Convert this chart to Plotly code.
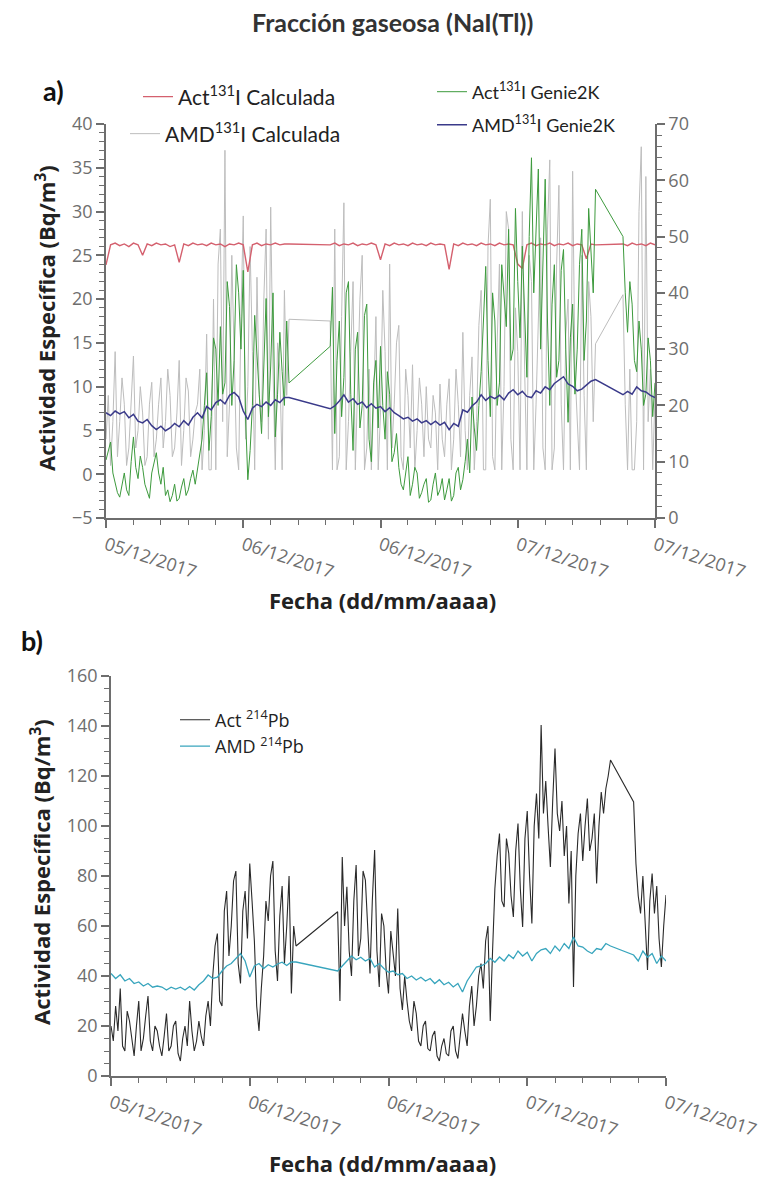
import plotly.graph_objects as go

# ---------------- time grids: hours after 05/12/2017 12:00 ----------------
def seg(start, n, step):
    return [round(start + step * i, 2) for i in range(n)]

top_hours = seg(0.0, 41, 0.4) + seg(19.6, 59, 0.4) + seg(45.2, 8, 0.4)      # smooth series
top_hours_d = seg(0.0, 81, 0.2) + seg(19.6, 117, 0.2) + seg(45.2, 15, 0.2)  # noisy series
bot_hours = seg(0.0, 41, 0.4) + seg(19.6, 60, 0.4) + seg(45.2, 8, 0.4)
bot_hours_d = seg(0.0, 81, 0.2) + seg(19.6, 119, 0.2) + seg(45.2, 15, 0.2)

tick_vals = [0, 12, 24, 36, 48]
tick_text = ["05/12/2017", "06/12/2017", "06/12/2017", "07/12/2017", "07/12/2017"]

# ---------------- panel a), left axis (Bq/m3) ----------------
amd_calc = [  # AMD 131I Calculada
    4, 9, 1, 6, 14, 2, 6, 11, 8, 1, 3, 9, 13.5, 3, 5, 10, 7, 1, 2, 8,
    10.5, 2, 4, 8, 11, 3, 6, 12, 9, 2, 3, 7, 13, 1, 5, 11, 9.5, 2, 4, 7,
    8, 12, 0.5, 5, 16, 0.5, 0.5, 20, 0.5, 24, 28, 6, 37, 2, 8, 25, 12, 3, 0.5, 18,
    29.5, 4, 10, 26, 14, 0.5, 22.5, 9, 6, 20, 28, 4, 30.5, 12, 0.5, 15, 12, 0.5, 21, 9,
    17.7,
    17.5, 0.5, 28, 0.5, 2, 18, 31, 0.5, 6, 14, 22, 0.5, 9, 20, 25, 0.5, 3, 12, 0.5, 8,
    18, 0.5, 7, 21, 14, 0.5, 24, 3, 8, 15, 17, 2, 0.5, 12, 9, 3, 12.5, 0.5, 5, 11,
    8, 2, 10, 4, 3, 9, 7, 0.5, 10.3, 4, 2, 8, 10.9, 0.5, 4, 12, 8, 2, 16.2, 5,
    0.5, 9, 13.4, 0.5, 6, 17, 21, 0.5, 0.5, 26, 31.4, 2, 0.5, 15, 24, 0.5, 10, 30, 28, 4,
    0.5, 19, 14, 0.5, 30, 12, 0.5, 25, 22, 0.5, 8, 18, 27, 3, 0.5, 28, 35.9, 0.5, 3, 24,
    33, 8, 0.5, 16, 20, 0.5, 34.6, 12, 6, 0.5, 25, 9, 0.5, 22, 18, 6, 14.9,
    20.5, 8, 0.5, 12, 0.5, 0.5, 6, 30, 37.4, 0.5, 34, 6, 12, 0.5, 9,
]
act_calc = [  # Act 131I Calculada
    23.9, 26.2, 26.4, 26.1, 26.3, 26.0, 26.4, 26.2, 25.0, 26.3,
    26.1, 26.4, 26.2, 26.3, 26.0, 26.2, 24.2, 26.3, 26.1, 26.4,
    26.2, 26.3, 26.1, 26.4, 26.2, 26.3, 26.0, 26.3, 26.2, 26.4,
    26.2, 23.1, 26.2, 26.4, 26.1, 26.3, 26.2, 26.4, 26.2, 26.3, 26.3,
    26.2, 26.4, 26.1, 26.3, 26.2, 26.4, 26.1, 26.3, 26.2, 26.4,
    26.2, 24.5, 26.3, 26.1, 26.4, 26.2, 26.3, 26.1, 26.4, 26.2,
    26.3, 26.1, 26.4, 26.2, 26.3, 26.2, 23.4, 26.3, 26.1, 26.4,
    26.2, 26.3, 26.1, 26.4, 26.2, 26.3, 26.1, 26.4, 26.2, 26.3,
    26.2, 24.0, 23.5, 26.2, 26.4, 26.1, 26.3, 26.2, 26.4, 26.1,
    26.3, 26.2, 26.4, 26.1, 26.3, 26.2, 24.6, 26.3, 26.2,
    26.3, 26.1, 26.4, 26.2, 26.3, 26.1, 26.4, 26.2,
]

# ---------------- panel a), right axis ----------------
act_genie = [  # Act 131I Genie2K
    10.3, 12, 13.5, 8, 6, 4.5, 3.7, 6, 8, 5, 4, 10, 14.4, 9, 7, 11, 9, 6, 4.5, 3.5,
    8, 10, 11.6, 8, 6, 9, 4, 5, 2.9, 4, 6, 3, 3.5, 5.5, 7, 4, 5, 7, 8.5, 6,
    9, 12, 14, 20, 25.8, 12, 18, 32, 30, 20, 34, 22, 24, 42, 37.6, 20, 28, 45, 40, 30,
    44, 18, 6.8, 12, 20, 36, 30, 22, 15, 28, 39, 18, 27, 40, 14.4, 22, 33, 26, 20, 35,
    24,
    30.5, 41, 15, 28, 35, 18, 25, 40, 42, 22, 12, 30, 33, 16, 20, 36, 38, 14, 10, 24,
    28, 16, 30.5, 20, 14, 26, 22, 10, 11.6, 15, 9, 6, 5, 8, 10.9, 4, 6, 9, 8, 3.5,
    4.5, 6, 7, 2.8, 3.2, 6, 8, 4, 5, 7, 3.2, 5, 7, 3, 4, 8, 9, 5, 6.8, 10,
    14, 8, 21.5, 16, 12, 20, 26, 35, 44.7, 28, 18, 40, 35, 20, 24, 45, 40, 34, 51.3, 28,
    30, 55, 42, 32, 48.3, 36, 25, 50, 64, 40, 51.8, 62, 30, 45, 60.2, 35, 20, 38, 45, 25,
    28, 44, 47.7, 30, 17, 32, 38, 22, 30, 45, 51.3, 28, 35, 55, 48, 40, 58.4,
    50, 40, 33, 42, 38, 28, 26, 35, 30, 20, 22, 32, 28, 18, 24,
]
amd_genie = [  # AMD 131I Genie2K
    18.7, 18.2, 19.0, 18.5, 18.9, 17.8, 18.4, 17.2, 16.9, 17.5,
    16.4, 15.7, 16.3, 15.5, 16.0, 16.8, 16.2, 17.3, 16.5, 17.9,
    18.7, 17.8, 19.8, 19.2, 20.5, 21.0, 20.3, 21.8, 22.3, 21.5,
    19.0, 17.5, 19.5, 20.2, 19.8, 20.6, 20.0, 21.0, 20.5, 21.4, 21.4,
    19.4, 19.9, 20.8, 21.9, 20.6, 21.2, 20.2, 20.6, 19.6, 20.3,
    19.5, 19.8, 18.9, 19.6, 18.7, 18.2, 17.6, 17.9, 17.2, 17.6,
    16.9, 17.3, 16.6, 17.2, 16.5, 17.0, 15.7, 16.8, 16.3, 19.2,
    18.8, 19.9, 20.6, 21.9, 20.9, 21.6, 21.2, 21.8, 21.0, 22.2,
    22.8, 21.9, 22.5, 21.6, 21.4, 22.6, 22.2, 23.3, 22.8, 23.9,
    24.5, 25.1, 23.8, 23.4, 22.6, 22.9, 23.6, 24.3, 24.6,
    21.9, 22.5, 22.0, 23.3, 22.6, 22.4, 21.8, 21.4,
]

# ---------------- panel b) ----------------
act_pb = [  # Act 214Pb
    20, 14, 28, 18, 35, 12, 10, 26, 22, 14, 8, 20, 30, 10, 15, 24, 32, 14, 10, 20,
    18, 12, 8, 16, 25, 10, 12, 20, 22, 9, 6, 15, 20, 12, 30, 18, 10, 14, 22, 16,
    12, 24, 30, 20, 40, 52, 57, 30, 28, 66, 74, 48, 60, 78, 82, 45, 37, 66, 74, 55,
    85, 70, 54, 28, 18, 35, 48, 70, 62, 80, 86, 50, 38, 64, 76, 45, 60, 80, 33, 60,
    52,
    65.7, 30, 87.6, 60, 75.7, 50, 40, 70, 84.4, 48, 55, 82, 78.4, 60, 41, 70, 90.4, 50, 35.6, 65,
    60, 42, 33, 58, 50, 40, 67, 35, 26.4, 40, 30, 22, 18, 30, 25, 14, 12, 20, 22, 11,
    10, 16, 18, 8, 6, 12, 15, 9, 8, 18, 20, 10, 7, 15, 25, 18, 12, 28, 36, 20,
    28, 40, 45, 35, 54, 60, 22, 50, 75, 88, 97, 70, 67.6, 95, 89, 72, 63.6, 90, 101, 75,
    59.6, 95, 106, 80, 61, 100, 113, 95, 140.4, 105, 118, 100, 83.6, 110, 131, 105, 98, 110, 88, 100,
    69, 90, 35.6, 80, 97, 105, 86, 100, 111, 90, 95, 105, 77, 100, 113.6, 105, 115, 120, 126.4,
    109.6, 85, 72, 65, 80, 60, 42.4, 70, 81, 65, 76, 55, 43.6, 60, 72.4,
]
amd_pb = [  # AMD 214Pb
    41, 39, 40.5, 38, 39, 37, 37.6, 36, 37, 35.5, 36, 35.6, 34.4, 35.5, 34.8, 35.5, 34.4, 35.8, 34.4, 36.5,
    38, 40.4, 39, 39.5, 42, 44, 45, 47, 49, 46, 39.6, 44, 45, 43, 44.5, 43.6, 44.8, 45.5, 44.2, 45.6,
    45.6,
    42, 44, 46, 48, 46.5, 47.5, 46, 47, 43.6, 45, 43, 41.5, 42, 40.5, 41, 39, 40, 38.4, 39.5, 38,
    39, 37, 38.5, 36.5, 37.5, 35.6, 37, 33.6, 38, 41, 43.6, 44, 45, 47, 45.5, 47.6, 46, 48.5, 47, 50,
    48, 49.5, 46, 49, 50.5, 51, 49, 52, 50, 53, 51, 55.6, 52, 51.6, 50, 49, 51, 50.5, 53, 52,
    48.4, 46, 50, 47.5, 49, 45, 48, 46,
]

W, H = 781, 1181
OFF = 8  # page body margin
def px(x):
    return (x - OFF) / W
def py(y):
    return 1 - (y - OFF) / H

AX = "#6e6e6e"
TICKFONT = dict(family="Open Sans", size=18, color="#6e6e6e")

fig = go.Figure()
fig.add_trace(go.Scatter(x=top_hours_d, y=amd_calc, mode="lines", name="AMD<sup>131</sup>I Calculada",
                         line=dict(color="#bdbdbd", width=1.0), xaxis="x", yaxis="y", legend="legend2"))
fig.add_trace(go.Scatter(x=top_hours, y=act_calc, mode="lines", name="Act<sup>131</sup>I Calculada",
                         line=dict(color="#d4606e", width=1.4), xaxis="x", yaxis="y", legend="legend"))
fig.add_trace(go.Scatter(x=top_hours_d, y=act_genie, mode="lines", name="Act<sup>131</sup>I Genie2K",
                         line=dict(color="#3d9a3d", width=1.0), xaxis="x", yaxis="y2", legend="legend3"))
fig.add_trace(go.Scatter(x=top_hours, y=amd_genie, mode="lines", name="AMD<sup>131</sup>I Genie2K",
                         line=dict(color="#3a3a8a", width=1.5), xaxis="x", yaxis="y2", legend="legend4"))
fig.add_trace(go.Scatter(x=bot_hours_d, y=act_pb, mode="lines", name="Act <sup>214</sup>Pb",
                         line=dict(color="#2a2a2a", width=1.1), xaxis="x2", yaxis="y3", legend="legend5"))
fig.add_trace(go.Scatter(x=bot_hours, y=amd_pb, mode="lines", name="AMD <sup>214</sup>Pb",
                         line=dict(color="#38a5bd", width=1.3), xaxis="x2", yaxis="y3", legend="legend5"))

def xax(domain, anchor):
    return dict(domain=domain, anchor=anchor, range=[0, 48], tickmode="array", tickvals=tick_vals,
                ticktext=tick_text, tickangle=18, tickfont=TICKFONT, showline=True, linecolor=AX,
                linewidth=1.5, ticks="outside", ticklen=8, tickwidth=1.5, tickcolor=AX,
                showgrid=False, zeroline=False, automargin=False,
                minor=dict(tickmode="linear", tick0=0, dtick=2.4, ticks="outside", ticklen=5,
                           tickwidth=1.2, tickcolor=AX, showgrid=False))

def yax(domain, anchor, rng, dtick, mdtick, **kw):
    d = dict(domain=domain, anchor=anchor, range=rng, dtick=dtick, tick0=0, tickfont=TICKFONT,
             showline=True, linecolor=AX, linewidth=1.5, ticks="outside", ticklen=8, tickwidth=1.5,
             tickcolor=AX, showgrid=False, zeroline=False, automargin=False,
             minor=dict(dtick=mdtick, ticks="outside", ticklen=5, tickwidth=1.2, tickcolor=AX, showgrid=False))
    d.update(kw)
    return d

def leg(x, y, size=21, family="Lato"):
    return dict(x=x, y=y, xref="container", yref="container", xanchor="left", yanchor="middle",
                bgcolor="rgba(0,0,0,0)", font=dict(family=family, size=size, color="#222"),
                tracegroupgap=0)

top_dom_x = [px(106), px(655)]
top_dom_y = [py(518), py(124)]
bot_dom_x = [px(111), px(666)]
bot_dom_y = [py(1076), py(676)]

fig.update_layout(
    width=W, height=H, margin=dict(l=0, r=0, t=0, b=0, autoexpand=False),
    paper_bgcolor="white", plot_bgcolor="white",
    xaxis=xax(top_dom_x, "y"),
    yaxis=yax(top_dom_y, "x", [-5, 40], 5, 1),
    yaxis2=yax(top_dom_y, "x", [0, 70], 10, 2, overlaying="y", side="right"),
    xaxis2=xax(bot_dom_x, "y3"),
    yaxis3=yax(bot_dom_y, "x2", [0, 160], 20, 5),
    legend=leg(px(178 - 40), py(97)),
    legend2=leg(px(165 - 40), py(134)),
    legend3=leg(px(472 - 40), py(92), size=18),
    legend4=leg(px(472 - 40), py(125), size=18),
    legend5=leg(px(215 - 40), py(733), size=18, family="Open Sans"),
    showlegend=True,
)

ann = [
    dict(text="Fracción gaseosa (NaI(Tl))", x=px(392), y=py(22),
         font=dict(family="Lato", size=25, color="#333", weight="bold")),
    dict(text="a)", x=px(53), y=py(90), font=dict(family="Lato", size=27, color="#111", weight="bold")),
    dict(text="b)", x=px(32), y=py(640), font=dict(family="Lato", size=27, color="#111", weight="bold")),
    dict(text="Actividad Específica (Bq/m<sup>3</sup>)", x=px(46), y=py(318), textangle=-90,
         font=dict(family="Open Sans", size=22, color="#222", weight="bold")),
    dict(text="Actividad Específica (Bq/m<sup>3</sup>)", x=px(40), y=py(872), textangle=-90,
         font=dict(family="Open Sans", size=22, color="#222", weight="bold")),
    dict(text="Fecha (dd/mm/aaaa)", x=px(382), y=py(600),
         font=dict(family="Open Sans", size=22, color="#222", weight="bold")),
    dict(text="Fecha (dd/mm/aaaa)", x=px(382), y=py(1163),
         font=dict(family="Open Sans", size=22, color="#222", weight="bold")),
]
for a in ann:
    a.update(xref="paper", yref="paper", showarrow=False, xanchor="center", yanchor="middle")
fig.update_layout(annotations=ann)

fig.write_html("out.html")
